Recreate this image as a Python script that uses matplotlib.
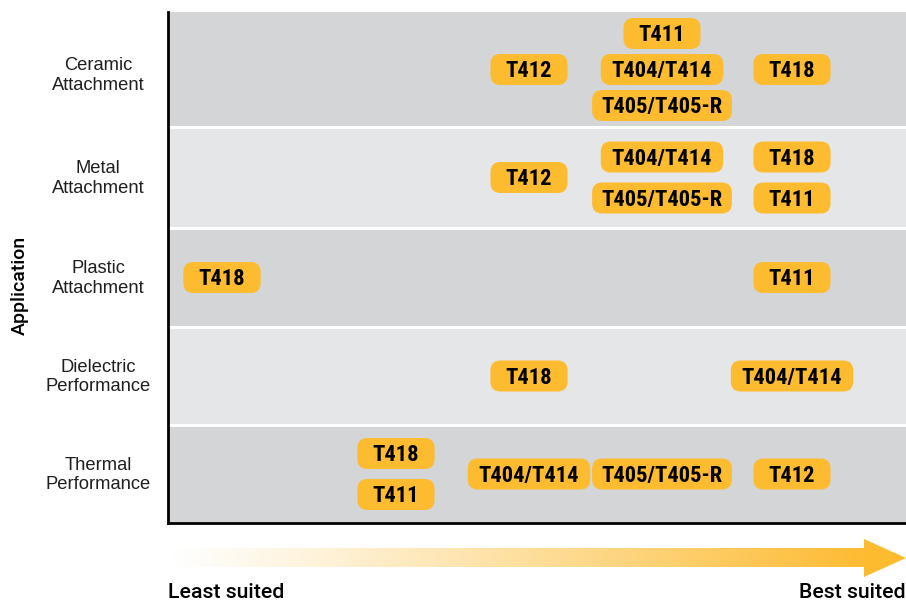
import matplotlib
matplotlib.use("Agg")
import matplotlib.pyplot as plt
import numpy as np
from matplotlib.patches import FancyBboxPatch, Polygon
from matplotlib.transforms import IdentityTransform, offset_copy
from matplotlib.colors import to_rgb

# ---------------- data ----------------
applications = ["Ceramic\nAttachment", "Metal\nAttachment", "Plastic\nAttachment",
                "Dielectric\nPerformance", "Thermal\nPerformance"]
# (product, suitability rating 1 = least suited ... 5 = best suited), listed top-to-bottom in a cell
ceramic = [("T412", 3), ("T411", 4), ("T404/T414", 4), ("T405/T405-R", 4), ("T418", 5)]
metal = [("T412", 3), ("T404/T414", 4), ("T405/T405-R", 4), ("T418", 5), ("T411", 5)]
plastic = [("T418", 1), ("T411", 5)]
dielectric = [("T418", 3), ("T404/T414", 5)]
thermal = [("T418", 2), ("T411", 2), ("T404/T414", 3), ("T405/T405-R", 4), ("T412", 5)]
products_by_application = [ceramic, metal, plastic, dielectric, thermal]
axis_title = "Application"
low_label = "Least suited"
high_label = "Best suited"

# ---------------- layout / style ----------------
W, H = 906, 602
DPI = 100
band_heights = [1.15, 1.01, 0.99, 0.98, 0.98]
band_colors = ["#d4d5d7", "#e5e6e8"]
box_color = "#fdbb30"
box_font = ["Roboto Condensed", "DejaVu Sans"]
text_font = ["Liberation Sans", "DejaVu Sans"]
title_font = ["Roboto", "Liberation Sans", "DejaVu Sans"]
fs_box = 16.2
# horizontal column centre for each rating, in pixels from the left spine
column_offsets_px = [54, 228, 361, 494, 624]

fig = plt.figure(figsize=(W / DPI, H / DPI), dpi=DPI)
ax_left, ax_right, ax_top, ax_bottom = 168, 906, 12, 523
ax = fig.add_axes([ax_left / W, 1 - ax_bottom / H, (ax_right - ax_left) / W, (ax_bottom - ax_top) / H])

edges = np.concatenate([[0], np.cumsum(band_heights)])
centers = (edges[:-1] + edges[1:]) / 2
ax.set_ylim(edges[-1], 0)
ax.set_xlim(0, ax_right - ax_left)
px_per_unit_y = (ax_bottom - ax_top) / edges[-1]

for i in range(len(applications)):
    ax.axhspan(edges[i], edges[i + 1], color=band_colors[i % 2], lw=0, zorder=0)
for e in edges[1:-1]:
    ax.axhline(e, color="white", lw=2.2, zorder=1)

for s in ["top", "right"]:
    ax.spines[s].set_visible(False)
for s in ["left", "bottom"]:
    ax.spines[s].set_linewidth(2.0)
    ax.spines[s].set_color("black")
    ax.spines[s].set_zorder(5)
ax.set_xticks([])
ax.set_yticks([])

# category labels
label_shift_px = [-6, -1, -1, -1, -1]
for i, app in enumerate(applications):
    ax.annotate(app, xy=(0, centers[i]), xycoords=("axes fraction", "data"),
                xytext=(-70, label_shift_px[i]), textcoords="offset pixels", ha="center", va="center",
                fontsize=13.2, family=text_font, color="#1f1f1f", linespacing=1.2)

# product boxes
texts = []
for i, items in enumerate(products_by_application):
    cells = {}
    for name, r in items:
        cells.setdefault(r, []).append(name)
    for r, names in cells.items():
        n = len(names)
        spacing_px = 36 if n >= 3 else 41
        for k, name in enumerate(names):
            off = (k - (n - 1) / 2) * spacing_px / px_per_unit_y
            y = centers[i] + off
            x = column_offsets_px[r - 1]
            tr = offset_copy(ax.transData, fig=fig, y=-0.3555 * fs_box, units="points")
            t = ax.text(x, y, name, transform=tr, ha="center", va="baseline",
                        fontsize=fs_box, fontweight="bold", family=box_font,
                        color="black", zorder=4)
            texts.append((t, x, y))

fig.canvas.draw()
renderer = fig.canvas.get_renderer()
box_h = 31
for t, x, y in texts:
    bb = t.get_window_extent(renderer)
    cx, cy = ax.transData.transform((x, y))
    w = bb.width * 0.84 + 38
    p = FancyBboxPatch((cx - w / 2, cy - box_h / 2), w, box_h,
                       boxstyle="round,pad=0,rounding_size=10",
                       transform=IdentityTransform(), fc=box_color, ec="none", zorder=3)
    ax.add_artist(p)

# overlay axes for arrow and bottom labels
ov = fig.add_axes([0, 0, 1, 1])
ov.set_xlim(0, W)
ov.set_ylim(H, 0)
ov.axis("off")
ov.patch.set_visible(False)

shaft_top, shaft_bot = 548, 567
head_top, head_bot = 539, 577
head_base, tip = 864, 906
arrow = Polygon([(168, shaft_top), (head_base, shaft_top), (head_base, head_top), (tip, (head_top + head_bot) / 2),
                 (head_base, head_bot), (head_base, shaft_bot), (168, shaft_bot)],
                closed=True, fc="none", ec="none")
ov.add_patch(arrow)
n = 512
rgb = np.array(to_rgb(box_color))
xs = np.linspace(0, 1, n)
alpha = np.clip(xs / 0.95, 0, 1) ** 1.1
img = np.ones((1, n, 4))
img[0, :, :3] = rgb
img[0, :, 3] = alpha
im = ov.imshow(img, extent=(168, tip, head_bot, head_top), aspect="auto", interpolation="bilinear")
im.set_clip_path(arrow)

ov.text(168, 601.5, low_label, ha="left", va="bottom", fontsize=15.3, fontweight="medium",
        family=title_font, color="black")
ov.text(905.5, 601.5, high_label, ha="right", va="bottom", fontsize=15.3, fontweight="medium",
        family=title_font, color="black")
fig.text(20 / W, 1 - 285 / H, axis_title, ha="center", va="center", rotation=90, fontsize=14,
         fontweight="medium", family=title_font, color="black")

fig.savefig("out.png", dpi=DPI)
